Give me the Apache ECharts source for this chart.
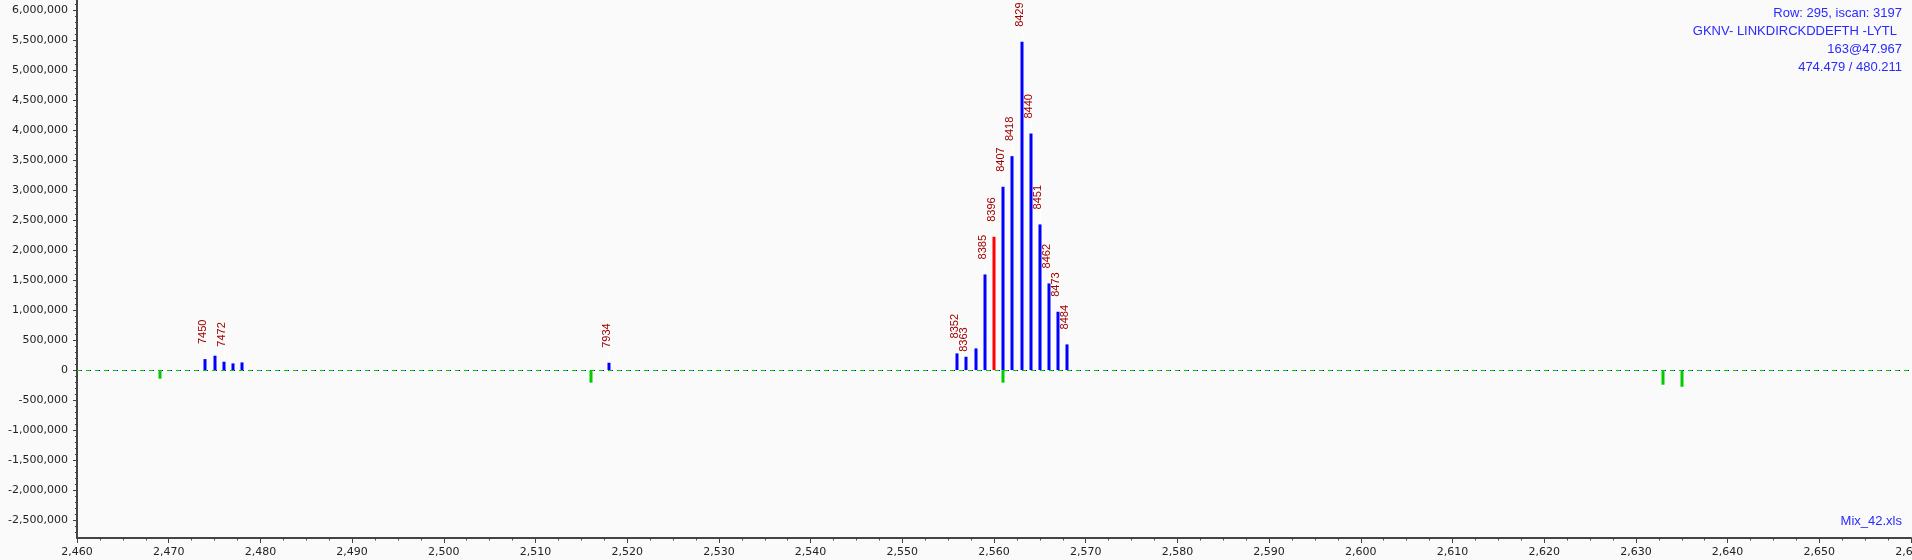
<!DOCTYPE html>
<html><head><meta charset="utf-8">
<script src="https://cdn.jsdelivr.net/npm/echarts@6/dist/echarts.min.js"></script>
<style>html,body{margin:0;padding:0;background:#fafafa;overflow:hidden}#c{width:1912px;height:560px}</style>
</head><body><div id="c"></div>
<script>
// ---- data ----
const peakMz        = [2474, 2475, 2476, 2477, 2478, 2518, 2556, 2557, 2558, 2559, 2560, 2561, 2562, 2563, 2564, 2565, 2566, 2567, 2568];
const peakIntensity = [183000, 239000, 139000, 111000, 128000, 122000, 278000, 222000, 361000, 1594000, 2222000, 3056000, 3567000, 5472000, 3944000, 2428000, 1444000, 972000, 428000];
const peakLabels    = ['7450', '', '7472', '', '', '7934', '8352', '8363', '', '8385', '8396', '8407', '8418', '8429', '8440', '8451', '8462', '8473', '8484'];
const highlightMz   = 2560;
const negMz         = [2469, 2516, 2561, 2633, 2635];
const negIntensity  = [-144000, -210000, -210000, -244000, -278000];
const xTickLabels   = [2460, 2470, 2480, 2490, 2500, 2510, 2520, 2530, 2540, 2550, 2560, 2570, 2580, 2590, 2600, 2610, 2620, 2630, 2640, 2650, 2660];
const yTickLabels   = [-2500000, -2000000, -1500000, -1000000, -500000, 0, 500000, 1000000, 1500000, 2000000, 2500000, 3000000, 3500000, 4000000, 4500000, 5000000, 5500000, 6000000];
const infoLines     = ['Row: 295, iscan: 3197', 'GKNV- LINKDIRCKDDEFTH -LYTL', '163@47.967', '474.479 / 480.211'];
const fileName      = 'Mix_42.xls';

const yMinorTicks = [];
for (let v = -2700000; v <= 6100000; v += 100000) yMinorTicks.push(v);

const fmt = v => Number(v).toLocaleString('en-US');
const axisColor = '#444';
// label leader gap in px (one label sits closer to its bar in the reference)
const labelGap = lab => (lab === '8363' ? 5 : 15);

const posData = peakMz.map((m, i) => [m, peakIntensity[i]]);
const negData = negMz.map((m, i) => [m, negIntensity[i]]);

function renderPeak(params, api) {
  const mz = api.value(0), v = api.value(1);
  const base = api.coord([mz, 0]);
  const top = api.coord([mz, v]);
  const idx = params.dataIndex;
  const cx = Math.round(top[0]);
  const children = [{
    type: 'rect',
    shape: { x: cx - 1.5, y: Math.min(base[1], top[1]), width: 3, height: Math.abs(base[1] - top[1]) },
    style: { fill: mz === highlightMz ? '#ff0000' : '#0000ff' }
  }];
  const lab = peakLabels[idx];
  if (lab) {
    const g = labelGap(lab);
    children.push({
      type: 'line',
      shape: { x1: cx + 0.5, y1: top[1] - 1, x2: cx + 0.5, y2: top[1] - g },
      style: { stroke: '#ffffff', lineWidth: 1 }
    });
    children.push({
      type: 'text',
      x: cx - 2, y: top[1] - g,
      rotation: Math.PI / 2,
      style: { text: lab, x: 0, y: 0, align: 'left', verticalAlign: 'middle', fill: '#a00000', font: '11px "Liberation Sans"' }
    });
  }
  return { type: 'group', children };
}

function renderNeg(params, api) {
  const mz = api.value(0), v = api.value(1);
  const base = api.coord([mz, 0]);
  const bot = api.coord([mz, v]);
  const cx = Math.round(bot[0]);
  return {
    type: 'rect',
    shape: { x: cx - 1.5, y: base[1], width: 3, height: bot[1] - base[1] },
    style: { fill: '#00cc00' }
  };
}

const chart = echarts.init(document.getElementById('c'), null, { renderer: 'canvas' });
chart.setOption({
  backgroundColor: '#fafafa',
  animation: false,
  grid: { left: 77, right: 1, top: 0, bottom: 22, containLabel: false, outerBoundsMode: 'none' },
  xAxis: {
    type: 'value', min: 2460, max: 2660, interval: 10,
    axisLine: { show: true, onZero: false, lineStyle: { color: axisColor, width: 2 } },
    axisTick: { show: true, length: 5, lineStyle: { color: axisColor } },
    minorTick: { show: true, splitNumber: 4, length: 2.5, lineStyle: { color: axisColor } },
    splitLine: { show: false },
    axisLabel: { show: true, showMaxLabel: true, showMinLabel: true, hideOverlap: false, margin: 9, color: '#222', fontFamily: 'DejaVu Sans', fontSize: 11, formatter: v => fmt(v) }
  },
  yAxis: [{
    type: 'value', min: -2800000, max: 6170000,
    axisLine: { show: true, onZero: false, lineStyle: { color: axisColor, width: 2 } },
    axisTick: { show: true, length: 4, customValues: yTickLabels, lineStyle: { color: axisColor } },
    splitLine: { show: false },
    axisLabel: { show: true, customValues: yTickLabels, margin: 9, color: '#222', fontFamily: 'DejaVu Sans', fontSize: 11, formatter: v => fmt(v) }
  }, {
    type: 'value', min: -2800000, max: 6170000, position: 'left',
    axisLine: { show: false },
    axisTick: { show: true, length: 2, customValues: yMinorTicks, lineStyle: { color: axisColor } },
    splitLine: { show: false },
    axisLabel: { show: false }
  }],
  series: [{
    type: 'custom', renderItem: renderPeak, data: posData, encode: { x: 0, y: 1 }, z: 3,
    markLine: {
      silent: true, symbol: 'none', label: { show: false }, animation: false,
      data: [{ yAxis: 0 }],
      lineStyle: { color: '#0000ff', type: [5, 4], width: 1 }
    }
  }, {
    type: 'custom', renderItem: renderNeg, data: negData, encode: { x: 0, y: 1 }, z: 3,
    markLine: {
      silent: true, symbol: 'none', label: { show: false }, animation: false,
      data: [{ yAxis: 0 }],
      lineStyle: { color: '#00cc00', type: [4, 5], width: 1 }
    }
  }],
  graphic: infoLines.map((t, i) => ({
    type: 'text', right: i === 1 ? 15 : 10, top: 6.5 + i * 18.2,
    style: { text: t, fill: '#2a2aff', font: '13px "Liberation Sans"' }
  })).concat([{
    type: 'text', right: 10, top: 515,
    style: { text: fileName, fill: '#2a2aff', font: '13px "Liberation Sans"' }
  }])
});
</script>
</body></html>
